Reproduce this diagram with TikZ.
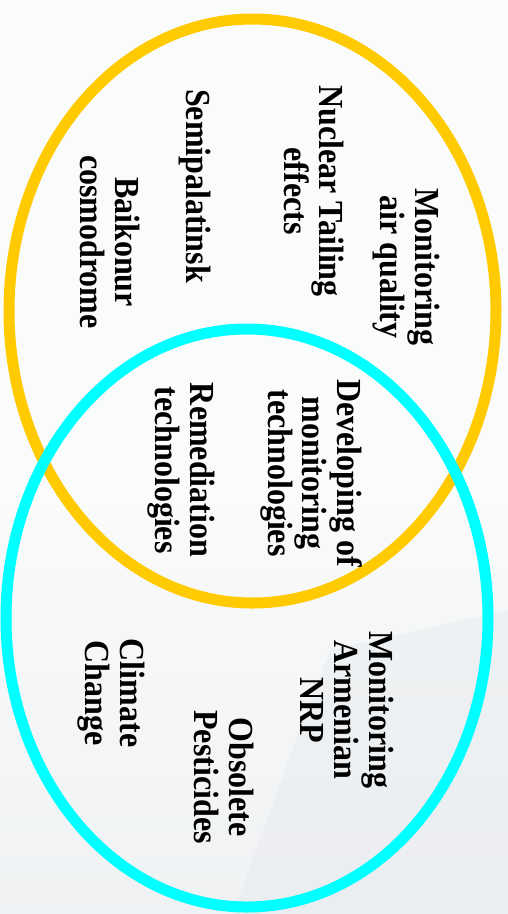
\documentclass[tikz,border=0pt]{standalone}
\usepackage{fontspec}
\setmainfont{Liberation Serif}
\definecolor{venngold}{HTML}{FFCA00}
\definecolor{venncyan}{HTML}{00FFFF}
\definecolor{bgA}{HTML}{FAFBFB}
\definecolor{bgB}{HTML}{E6EAEE}
\tikzset{
  lbl/.style={rotate=-90, align=center, inner sep=0pt,
    font=\fontsize{32}{31}\selectfont\bfseries},
  ring/.style={line width=11pt}
}
\newcommand{\vtxt}[1]{\scalebox{1}[1.1]{\begin{tabular}{@{}c@{}}#1\end{tabular}}}
\begin{document}
\begin{tikzpicture}[x=1pt,y=-1pt]
\useasboundingbox (0,0) rectangle (508,914);
\fill[bgA] (0,0) rectangle (508,914);
\shade[top color=bgA, bottom color=bgB, opacity=0.5] (0,500) rectangle (508,914);
\fill[bgB, opacity=0.45] (233,914) -- (285,770) -- (330,650) -- (508,610) -- (508,914) -- cycle;
% ellipses
\draw[ring, venngold] (252.5,311) ellipse [x radius=243.5, y radius=292];
\draw[ring, venncyan] (247,618) ellipse [x radius=241, y radius=289];
% labels
\node[lbl] (airq) at (405,267) {\vtxt{Monitoring\\air quality}};
\node[lbl] (nucl) at (309,191) {\vtxt{Nuclear Tailing\\effects}};
\node[lbl] (semi) at (194,186) {\vtxt{Semipalatinsk}};
\node[lbl] (baik) at (105,242) {\vtxt{Baikonur\\cosmodrome}};
\node[lbl] (devm) at (310,473) {\vtxt{Developing of\\monitoring\\technologies}};
\node[lbl] (reme) at (180,470) {\vtxt{Remediation\\technologies}};
\node[lbl] (nrp) at (342,710) {\vtxt{Monitoring\\Armenian\\NRP}};
\node[lbl] (pest) at (219,777) {\vtxt{Obsolete\\Pesticides}};
\node[lbl] (clim) at (110,693) {\vtxt{Climate\\Change}};
\end{tikzpicture}
\end{document}
